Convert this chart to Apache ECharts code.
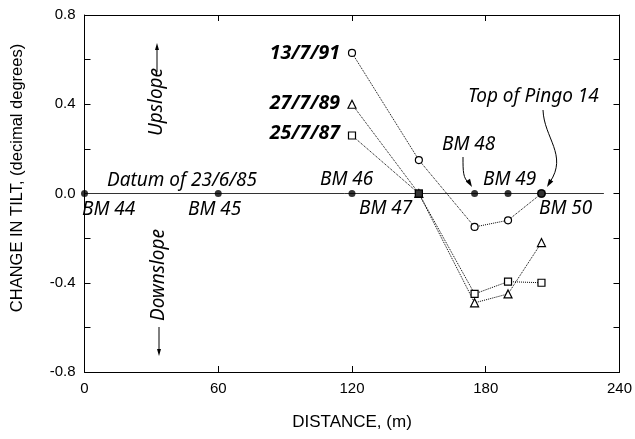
<!DOCTYPE html>
<html>
<head>
<meta charset="utf-8">
<script src="https://cdn.jsdelivr.net/npm/echarts@6/dist/echarts.min.js"></script>
<style>html,body{margin:0;padding:0;background:#fff}#c{width:635px;height:439px}</style>
</head>
<body>
<div id="c"></div>
<script>
// ---- data ----
const benchmarkNames = ['BM 44','BM 45','BM 46','BM 47','BM 48','BM 49','BM 50'];
const benchmarkDist = [0, 60, 120, 150, 175, 190, 205];
const datumTilt = [0, 0, 0, 0, 0, 0, 0];
const surveyDist = [120, 150, 175, 190, 205];
const tilt1991 = [0.63, 0.15, -0.15, -0.12, 0.0];
const tilt1989 = [0.40, 0.0, -0.49, -0.45, -0.22];
const tilt1987 = [0.26, 0.0, -0.45, -0.395, -0.40];
const xTicks = [0, 60, 120, 180, 240];
const yTicks = [-0.8, -0.4, 0.0, 0.4, 0.8];
const zeroLineExtent = [0, 233];

const chart = echarts.init(document.getElementById('c'), null, {renderer:'canvas'});

function pairs(xs, ys){ return xs.map((x,i)=>[x, ys[i]]); }

const datumData = benchmarkDist.map((x,i)=>{
  const d = {value:[x, datumTilt[i]]};
  if (benchmarkNames[i]==='BM 47') { d.symbol='rect'; d.symbolSize=8; }
  if (benchmarkNames[i]==='BM 50') { d.symbolSize=9; }
  return d;
});

const dotted = {type:'dotted', color:'#000', width:1};
const hollow = {color:'#fff', borderColor:'#000', borderWidth:1.2};

const ital = '"Noto Sans", "DejaVu Sans", sans-serif';
const sans = '"Liberation Sans", Arial, sans-serif';

function arrowHead(x, y, angle, len, wid){
  const bx = x - len*Math.cos(angle), by = y - len*Math.sin(angle);
  const px = -Math.sin(angle)*wid/2, py = Math.cos(angle)*wid/2;
  return {type:'polygon', shape:{points:[[x,y],[bx+px,by+py],[bx-px,by-py]]}, style:{fill:'#000'}, z:100};
}
function label(text, x, y, opt){
  opt = opt || {};
  return {type:'text', x:x, y:y, rotation: opt.rot||0, z:100,
    style:{text:text, fill:'#000', font:(opt.bold?'bold ':'')+'italic '+(opt.size||19)+'px '+ital,
      textAlign: opt.align||'left', textVerticalAlign:'middle'}};
}

const option = {
  animation:false,
  backgroundColor:'#fff',
  grid:{left:84.5, right:15.5, top:15, bottom:67},
  xAxis:[{
    type:'value', min:xTicks[0], max:xTicks[xTicks.length-1], interval:60,
    axisLine:{show:true, onZero:false, lineStyle:{color:'#000', width:1}},
    axisTick:{show:true, inside:true, length:6, lineStyle:{color:'#000'}},
    axisLabel:{color:'#000', fontSize:15, fontFamily:sans, margin:9},
    splitLine:{show:false},
    name:'DISTANCE, (m)', nameLocation:'middle', nameGap:42,
    nameTextStyle:{color:'#000', fontSize:17, fontFamily:sans}
  },{
    type:'value', position:'top', min:0, max:240, interval:60,
    axisLine:{show:true, onZero:false, lineStyle:{color:'#000'}},
    axisTick:{show:true, inside:true, length:6, lineStyle:{color:'#000'}},
    axisLabel:{show:false}, splitLine:{show:false}
  }],
  yAxis:[{
    type:'value', min:-0.8, max:0.8, interval:0.2,
    axisLine:{show:true, onZero:false, lineStyle:{color:'#000', width:1}},
    axisTick:{show:true, inside:true, length:6, lineStyle:{color:'#000'}},
    axisLabel:{color:'#000', fontSize:15, fontFamily:sans, margin:9,
      formatter:function(v){
        const hit = yTicks.find(t=>Math.abs(t-v)<1e-6);
        if (hit===undefined) return '';
        return (hit<-1e-9?'-':'') + Math.abs(hit).toFixed(1);
      }},
    splitLine:{show:false}
  },{
    type:'value', position:'right', min:-0.8, max:0.8, interval:0.2,
    axisLine:{show:true, onZero:false, lineStyle:{color:'#000'}},
    axisTick:{show:true, inside:true, length:6, lineStyle:{color:'#000'}},
    axisLabel:{show:false}, splitLine:{show:false}
  }],
  series:[
    {type:'line', data:[[zeroLineExtent[0],0],[zeroLineExtent[1],0]], symbol:'none',
      lineStyle:{color:'#333', width:1}, z:1, silent:true},
    {type:'line', name:'13/7/91', data:pairs(surveyDist, tilt1991), symbol:'circle', symbolSize:7,
      lineStyle:dotted, itemStyle:hollow, z:3},
    {type:'line', name:'27/7/89', data:pairs(surveyDist, tilt1989), symbol:'triangle', symbolSize:8,
      lineStyle:dotted, itemStyle:hollow, z:3},
    {type:'line', name:'25/7/87', data:pairs(surveyDist, tilt1987), symbol:'rect', symbolSize:7,
      lineStyle:dotted, itemStyle:hollow, z:3},
    {type:'scatter', name:'Datum', data:datumData, symbol:'circle', symbolSize:7,
      itemStyle:{color:'#000'}, z:5}
  ],
  graphic:[
    {type:'text', x:17, y:178, rotation:Math.PI/2, z:100,
      style:{text:'CHANGE IN TILT, (decimal degrees)', fill:'#000',
        font:'16.5px '+sans, textAlign:'center', textVerticalAlign:'middle'}},
    label('13/7/91', 340, 53, {bold:true, size:19.5, align:'right'}),
    label('27/7/89', 340, 103, {bold:true, size:19.5, align:'right'}),
    label('25/7/87', 340, 133, {bold:true, size:19.5, align:'right'}),
    label('Datum of 23/6/85', 107, 181),
    label('BM 44', 82, 210),
    label('BM 45', 188, 210),
    label('BM 46', 320, 180),
    label('BM 47', 359, 209),
    label('BM 48', 442, 145),
    label('BM 49', 483, 180),
    label('BM 50', 539, 209),
    label('Top of Pingo 14', 468, 97),
    label('Upslope', 157, 102, {rot:Math.PI/2, align:'center'}),
    label('Downslope', 159, 275, {rot:Math.PI/2, align:'center'}),
    {type:'line', shape:{x1:157, y1:72, x2:157, y2:48}, style:{stroke:'#000', lineWidth:1}, z:100},
    arrowHead(157, 43, -Math.PI/2, 7, 4),
    {type:'line', shape:{x1:159, y1:327, x2:159, y2:350}, style:{stroke:'#000', lineWidth:1}, z:100},
    arrowHead(159, 356, Math.PI/2, 7, 4),
    {type:'bezierCurve', shape:{x1:463, y1:157, cpx1:463, cpy1:172, cpx2:463, cpy2:178, x2:469, y2:183},
      style:{stroke:'#000', lineWidth:1, fill:null}, z:100},
    arrowHead(472, 187, Math.atan2(5,3), 8, 5),
    {type:'bezierCurve', shape:{x1:543, y1:110, cpx1:544, cpy1:138, cpx2:568, cpy2:155, x2:550, y2:182},
      style:{stroke:'#000', lineWidth:1, fill:null}, z:100},
    arrowHead(547, 187, Math.atan2(5,-3), 8, 5)
  ]
};
chart.setOption(option);
</script>
</body>
</html>
